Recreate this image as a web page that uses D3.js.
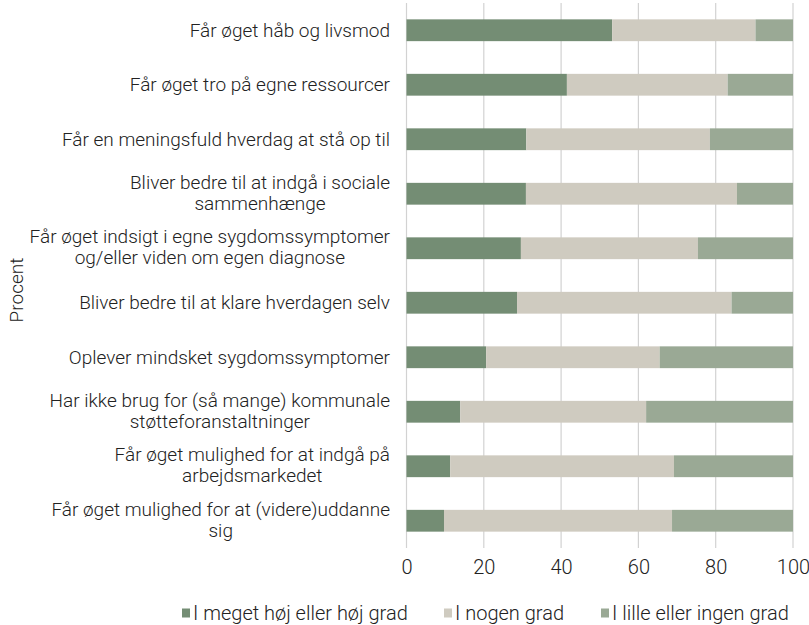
<!DOCTYPE html>
<html>
<head>
<meta charset="utf-8">
<script src="https://cdn.jsdelivr.net/npm/d3@7"></script>
<style>
  body { margin: 0; background: #fff; }
  text { font-family: Roboto, "DejaVu Sans", sans-serif; fill: #222; }
</style>
</head>
<body>
<script>
// categories, top to bottom ("\n" marks a line break in the label)
const categories = [
  "Får øget håb og livsmod",
  "Får øget tro på egne ressourcer",
  "Får en meningsfuld hverdag at stå op til",
  "Bliver bedre til at indgå i sociale\nsammenhænge",
  "Får øget indsigt i egne sygdomssymptomer\nog/eller viden om egen diagnose",
  "Bliver bedre til at klare hverdagen selv",
  "Oplever mindsket sygdomssymptomer",
  "Har ikke brug for (så mange) kommunale\nstøtteforanstaltninger",
  "Får øget mulighed for at indgå på\narbejdsmarkedet",
  "Får øget mulighed for at (videre)uddanne\nsig"
];
const seriesNames = ["I meget høj eller høj grad", "I nogen grad", "I lille eller ingen grad"];
const hoej   = [53.2, 41.5, 31.0, 30.9, 29.6, 28.6, 20.6, 13.9, 11.3, 9.7];
const nogen  = [37.1, 41.6, 47.5, 54.6, 45.8, 55.5, 44.9, 48.1, 57.9, 59.0];
const lille  = [9.7, 16.9, 21.5, 14.5, 24.6, 15.9, 34.5, 38.0, 30.8, 31.3];
const xTicks = [0, 20, 40, 60, 80, 100];
const yTitle = "Procent";

const colors = ["#748d74", "#cfcbc0", "#9aa995"];
const width = 809, height = 625;
const margin = { left: 406.5, right: 16, top: 3, bottom: 77 };

const rows = categories.map((c, i) => ({ cat: c, v0: hoej[i], v1: nogen[i], v2: lille[i] }));
const stack = d3.stack().keys(["v0", "v1", "v2"])(rows);

const x = d3.scaleLinear([0, 100], [margin.left, width - margin.right]);
const y = d3.scaleBand(categories, [margin.top, height - margin.bottom]).paddingInner(0.6).paddingOuter(0.3);

const svg = d3.select("body").append("svg")
    .attr("width", width)
    .attr("height", height)
    .attr("viewBox", `0 0 ${width} ${height}`);

// vertical gridlines
svg.append("g")
  .selectAll("line")
  .data(xTicks)
  .join("line")
    .attr("x1", d => x(d)).attr("x2", d => x(d))
    .attr("y1", margin.top).attr("y2", height - margin.bottom)
    .attr("stroke", "#d2d2d2")
    .attr("stroke-width", 1.2);

// bars
svg.append("g")
  .selectAll("g")
  .data(stack)
  .join("g")
    .attr("fill", (d, i) => colors[i])
  .selectAll("rect")
  .data(d => d)
  .join("rect")
    .attr("x", d => x(d[0]))
    .attr("width", d => x(d[1]) - x(d[0]))
    .attr("y", d => y(d.data.cat))
    .attr("height", y.bandwidth());

// x axis labels
const xAxis = d3.axisBottom(x).tickValues(xTicks).tickSize(0).tickPadding(12);
svg.append("g")
    .attr("transform", `translate(0,${height - margin.bottom})`)
    .call(xAxis)
    .call(g => g.select(".domain").remove())
    .call(g => g.selectAll("text")
        .attr("font-family", null)
        .attr("font-size", 20)
        .attr("font-weight", 300)
        .attr("fill", "#222"));

// category labels: block right-aligned, lines centred in block
const labelRight = 390;
const lineH = 21;
const labels = svg.append("g").attr("font-size", 19).attr("font-weight", 300);
categories.forEach(c => {
  const lines = c.split("\n");
  const t = labels.append("text").attr("text-anchor", "middle");
  const cy = y(c) + y.bandwidth() / 2 - (lines.length > 1 ? 1 : 0);
  lines.forEach((ln, j) => {
    t.append("tspan")
      .attr("y", cy + (j - (lines.length - 1) / 2) * lineH)
      .attr("dy", "0.35em")
      .text(ln);
  });
  const spans = t.selectAll("tspan").nodes();
  const maxW = d3.max(spans, s => s.getComputedTextLength());
  t.selectAll("tspan").attr("x", labelRight - maxW / 2);
});

// y title
svg.append("text")
    .attr("transform", `translate(16,290) rotate(-90)`)
    .attr("text-anchor", "middle")
    .attr("dy", "0.35em")
    .attr("font-size", 19)
    .attr("font-weight", 300)
    .text(yTitle);

// legend
const legendX = [182, 444, 601];
const legend = svg.append("g").attr("transform", `translate(0,613)`);
seriesNames.forEach((n, i) => {
  const g = legend.append("g").attr("transform", `translate(${legendX[i]},0)`);
  g.append("rect").attr("x", 0).attr("y", -4.5).attr("width", 8).attr("height", 9).attr("fill", colors[i]);
  g.append("text").attr("x", 11).attr("dy", "0.35em")
    .attr("font-size", 20).attr("font-weight", 300).text(n);
});
</script>
</body>
</html>
